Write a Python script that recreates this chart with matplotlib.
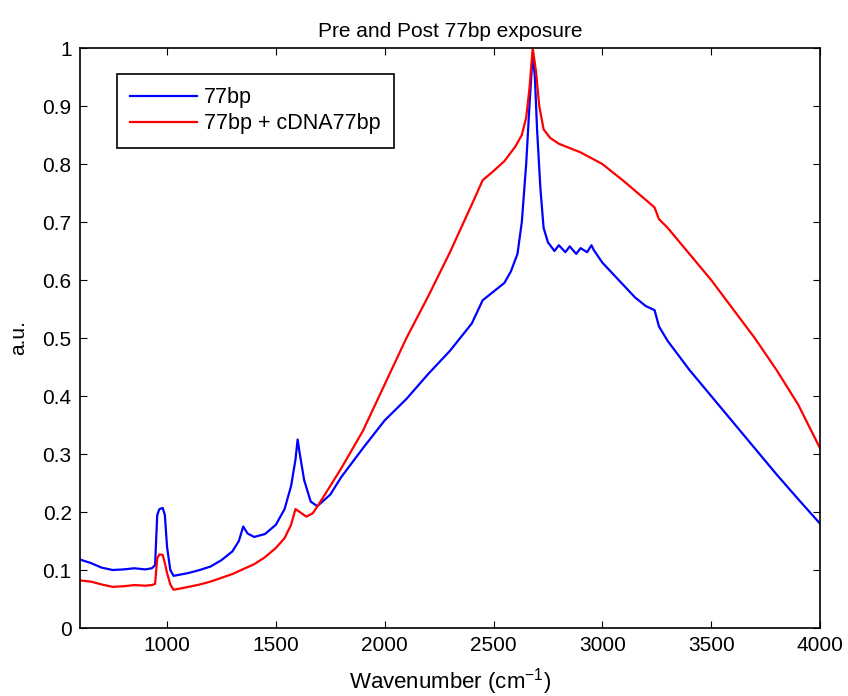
import matplotlib
matplotlib.use("Agg")
import matplotlib.pyplot as plt

# wavenumber / intensity pairs
wn_blue = [600, 650, 700, 750, 800, 850, 900, 930, 945, 955, 965, 980, 990, 1000,
           1015, 1030, 1060, 1100, 1150, 1200, 1250, 1300, 1330, 1350, 1370, 1400,
           1450, 1500, 1540, 1570, 1590, 1600, 1610, 1630, 1660, 1690, 1750, 1800,
           1900, 2000, 2100, 2200, 2300, 2400, 2450, 2500, 2550, 2580, 2610, 2630,
           2650, 2665, 2680, 2690, 2700, 2715, 2730, 2750, 2780, 2800, 2830, 2850,
           2880, 2900, 2930, 2950, 2960, 3000, 3050, 3100, 3150, 3200, 3240, 3260,
           3300, 3400, 3500, 3600, 3700, 3800, 3900, 4000]
a_blue = [0.118, 0.112, 0.104, 0.100, 0.101, 0.103, 0.101, 0.103, 0.108, 0.195, 0.205,
          0.207, 0.195, 0.140, 0.100, 0.090, 0.092, 0.095, 0.100, 0.106, 0.117, 0.132,
          0.150, 0.175, 0.163, 0.157, 0.162, 0.178, 0.205, 0.245, 0.290, 0.325, 0.300,
          0.255, 0.218, 0.210, 0.230, 0.260, 0.310, 0.358, 0.395, 0.438, 0.478, 0.525,
          0.565, 0.580, 0.595, 0.615, 0.645, 0.700, 0.800, 0.900, 0.990, 0.950, 0.860,
          0.760, 0.690, 0.665, 0.650, 0.660, 0.648, 0.658, 0.645, 0.655, 0.648, 0.660,
          0.652, 0.630, 0.610, 0.590, 0.570, 0.555, 0.548, 0.520, 0.495, 0.445, 0.400,
          0.355, 0.310, 0.265, 0.222, 0.180]

wn_red = [600, 650, 700, 750, 800, 850, 900, 930, 945, 955, 965, 980, 990, 1000,
          1015, 1030, 1060, 1100, 1150, 1200, 1300, 1400, 1450, 1500, 1540, 1570,
          1590, 1610, 1640, 1670, 1700, 1750, 1800, 1900, 2000, 2100, 2200, 2300,
          2400, 2450, 2500, 2550, 2600, 2630, 2650, 2665, 2680, 2695, 2710, 2730,
          2760, 2800, 2900, 3000, 3100, 3200, 3240, 3260, 3300, 3400, 3500, 3600,
          3700, 3800, 3900, 4000]
a_red = [0.082, 0.080, 0.075, 0.071, 0.072, 0.074, 0.073, 0.074, 0.076, 0.120, 0.127,
         0.126, 0.112, 0.095, 0.075, 0.066, 0.068, 0.071, 0.075, 0.080, 0.093, 0.110,
         0.122, 0.138, 0.155, 0.178, 0.205, 0.200, 0.192, 0.198, 0.215, 0.245, 0.275,
         0.340, 0.420, 0.500, 0.572, 0.648, 0.730, 0.772, 0.788, 0.805, 0.830, 0.850,
         0.880, 0.930, 1.000, 0.960, 0.900, 0.860, 0.845, 0.835, 0.820, 0.800, 0.770,
         0.738, 0.725, 0.705, 0.690, 0.645, 0.600, 0.550, 0.500, 0.445, 0.385, 0.310]

plt.rcParams['font.family'] = ['Liberation Sans', 'DejaVu Sans']
plt.rcParams['font.size'] = 15
plt.rcParams['mathtext.fontset'] = 'custom'
plt.rcParams['mathtext.rm'] = 'Liberation Sans'

fig = plt.figure(figsize=(8.48, 6.96), dpi=100)
ax = fig.add_axes([0.0943, 0.0977, 0.8727, 0.8333])

ax.plot(wn_blue, a_blue, color='#0000ff', lw=1.6, label='77bp')
ax.plot(wn_red, a_red, color='#ff0000', lw=1.6, label='77bp + cDNA77bp')

ax.set_xlim(600, 4000)
ax.set_ylim(0, 1)
ax.set_xticks([1000, 1500, 2000, 2500, 3000, 3500, 4000])
ax.set_yticks([0, 0.1, 0.2, 0.3, 0.4, 0.5, 0.6, 0.7, 0.8, 0.9, 1])
ax.set_yticklabels(['0', '0.1', '0.2', '0.3', '0.4', '0.5', '0.6', '0.7', '0.8', '0.9', '1'])
ax.tick_params(direction='in', top=True, right=True, length=5, labelsize=15, pad=6)
for s in ax.spines.values():
    s.set_linewidth(1.2)
ax.set_xlabel('Wavenumber (cm$^{\\mathregular{-1}}$)', fontsize=16, labelpad=8)
ax.set_ylabel('a.u.', fontsize=15, labelpad=10)
ax.set_title('Pre and Post 77bp exposure', fontsize=15, pad=8)

leg = ax.legend(loc='upper left', bbox_to_anchor=(0.05, 0.955), fancybox=False,
                edgecolor='black', framealpha=1, fontsize=15.5, handlelength=3.1,
                handletextpad=0.32, labelspacing=0.22, borderpad=0.62,
                borderaxespad=0)
leg.get_frame().set_linewidth(1.2)

fig.savefig('out.png', dpi=100)
